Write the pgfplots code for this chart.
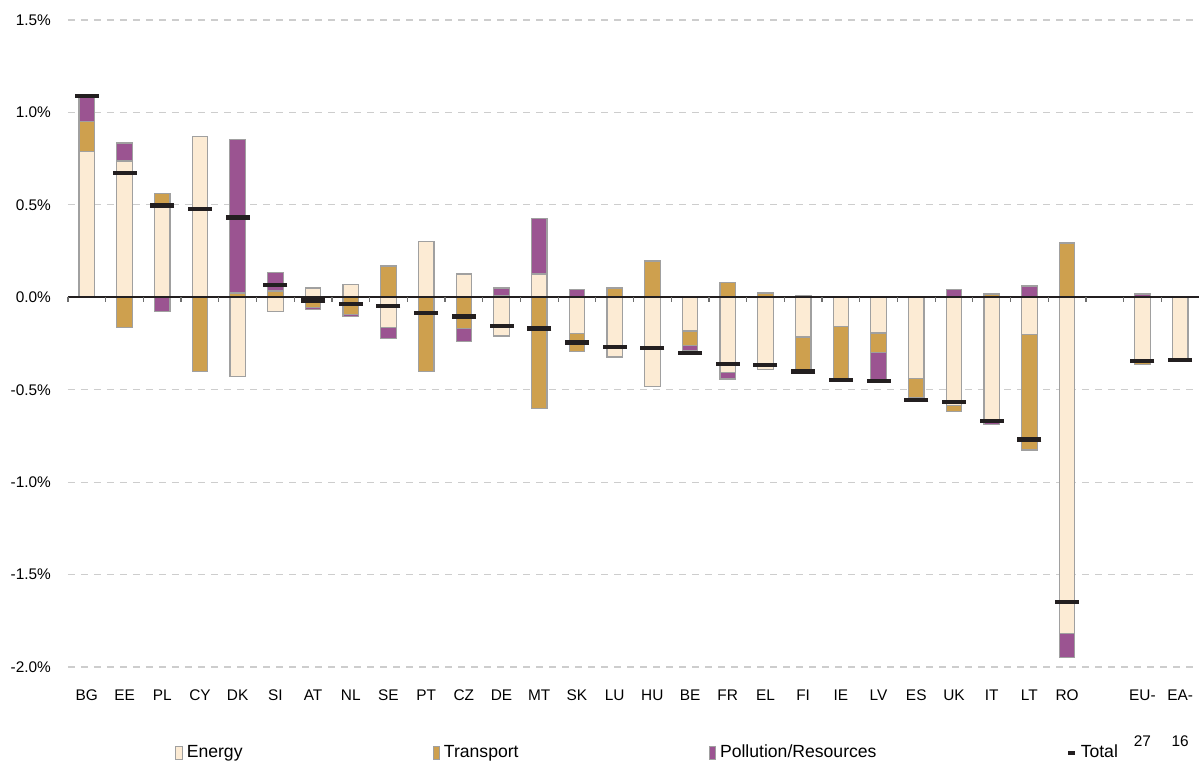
\documentclass[border=0pt]{standalone}
\usepackage{pgfplots}
\pgfplotsset{compat=1.18}
\usepackage{pgfplotstable}
\usepackage{fontspec}
\setmainfont{Liberation Sans}
\definecolor{energy}{RGB}{252,235,212}
\definecolor{transport}{RGB}{206,160,78}
\definecolor{pollution}{RGB}{155,84,145}
\definecolor{outline}{RGB}{160,160,160}
\definecolor{totalc}{RGB}{35,31,32}
\definecolor{gridc}{RGB}{205,205,205}
\definecolor{tickc}{RGB}{110,110,110}

\pgfplotstableread{
x  Ep    Tp    Pp    En     Tn     Pn     Tot
0  0.790 0.160 0.130 0      0      0      1.090
1  0.737 0     0.097 0      -0.162 0      0.672
2  0.505 0.055 0     0      0      -0.075 0.496
3  0.870 0     0     0      -0.400 0      0.477
4  0     0.023 0.829 -0.427 0      0      0.432
5  0     0.034 0.100 -0.076 0      0      0.065
6  0.050 0     0     0      -0.055 -0.012 -0.018
7  0.069 0     0     0      -0.093 -0.010 -0.036
8  0     0.169 0     -0.165 0      -0.057 -0.047
9  0.303 0     0     0      -0.400 0      -0.085
10 0.126 0     0     0      -0.170 -0.070 -0.105
11 0     0.010 0.040 -0.210 0      0      -0.157
12 0.126 0     0.302 0      -0.600 0      -0.170
13 0     0     0.043 -0.196 -0.096 0      -0.245
14 0     0.050 0     -0.323 0      0      -0.270
15 0     0.195 0.005 -0.483 0      0      -0.274
16 0     0     0     -0.182 -0.079 -0.028 -0.300
17 0     0.080 0     -0.405 0      -0.037 -0.360
18 0     0.023 0     -0.390 0      0      -0.365
19 0     0     0.010 -0.215 -0.175 0      -0.402
20 0     0     0     -0.160 -0.284 0      -0.448
21 0     0     0     -0.193 -0.107 -0.148 -0.453
22 0     0     0     -0.440 -0.105 0      -0.555
23 0     0     0.043 -0.587 -0.029 0      -0.567
24 0     0.018 0     -0.665 0      -0.023 -0.668
25 0     0     0.061 -0.203 -0.623 0      -0.770
26 0     0.294 0     -1.818 0      -0.132 -1.649
28 0     0     0.018 -0.348 -0.017 0      -0.346
29 0     0     0     -0.340 0      0      -0.340
}\data

\pgfplotstableread{
x y
-0.5 0
29.5 0
}\zeroline

\pgfplotsset{
  base/.style={scale only axis, width=565.5pt, height=323.5pt,
    xmin=-0.5, xmax=29.5, ymin=-2.0, ymax=1.5, at={(0,0)}, anchor=south west},
  barsty/.style={ybar stacked, bar width=7.75pt},
  eimg/.style={legend image code/.code={\draw[fill=energy,draw=outline,line width=0.5pt] (0pt,-3.2pt) rectangle (3.2pt,3.2pt);}},
  timg/.style={legend image code/.code={\draw[fill=transport,draw=outline,line width=0.5pt] (0pt,-3.2pt) rectangle (3.2pt,3.2pt);}},
  pimg/.style={legend image code/.code={\draw[fill=pollution,draw=outline,line width=0.5pt] (0pt,-3.2pt) rectangle (3.2pt,3.2pt);}},
  totimg/.style={legend image code/.code={\draw[totalc,line width=1.6pt] (0pt,0pt) -- (3.5pt,0pt);}},
}

\begin{document}
\begin{tikzpicture}[font=\fontsize{7.7}{9}\selectfont]
\begin{axis}[base, barsty,
  axis x line*=bottom, axis y line*=left,
  x axis line style={draw=none}, y axis line style={draw=none},
  major tick length=0pt,
  ytick={-2,-1.5,-1,-0.5,0,0.5,1,1.5},
  ymajorgrids, grid style={gridc, dash pattern=on 3.5pt off 3pt, line width=0.6pt},
  /pgf/number format/assume math mode=true,
  yticklabel={\pgfmathprintnumber[fixed,fixed zerofill,precision=1]{\tick}\%},
  yticklabel style={xshift=-5pt},
  xtick={0,1,2,3,4,5,6,7,8,9,10,11,12,13,14,15,16,17,18,19,20,21,22,23,24,25,26,28,29},
  xticklabels={BG,EE,PL,CY,DK,SI,AT,NL,SE,PT,CZ,DE,MT,SK,LU,HU,BE,FR,EL,FI,IE,LV,ES,UK,IT,LT,RO,{EU-\\[14pt]27},{EA-\\[14pt]16}},
  xticklabel style={align=center, yshift=-8pt},
  legend style={at={(0.0946,-0.133)}, anchor=west, draw=none, fill=none, inner sep=0pt,
    font=\fontsize{8.8}{10}\selectfont,
    /tikz/every even column/.append style={column sep=93pt}},
  legend columns=4, legend cell align=left,
]
\addplot[fill=energy, draw=outline, line width=0.6pt, eimg] table[x=x,y=Ep]{\data};
\addlegendentry{Energy}
\addplot[fill=transport, draw=outline, line width=0.6pt, timg] table[x=x,y=Tp]{\data};
\addlegendentry{Transport}
\addplot[fill=pollution, draw=outline, line width=0.6pt, pimg] table[x=x,y=Pp]{\data};
\addlegendentry{Pollution/Resources}
\addlegendimage{totimg}
\addlegendentry{Total}
\end{axis}
\begin{axis}[base, barsty, hide axis]
\addplot[fill=energy, draw=outline, line width=0.6pt] table[x=x,y=En]{\data};
\addplot[fill=transport, draw=outline, line width=0.6pt] table[x=x,y=Tn]{\data};
\addplot[fill=pollution, draw=outline, line width=0.6pt] table[x=x,y=Pn]{\data};
\end{axis}
\begin{axis}[base, hide axis, clip=false]
\addplot[draw=totalc, line width=0.8pt, mark=none, solid, sharp plot] table[x=x,y=y]{\zeroline};
\addplot[draw=tickc, line width=0.6pt, mark=none, ycomb, solid] coordinates {
(-0.5,-0.025) (0.5,-0.025) (1.5,-0.025) (2.5,-0.025) (3.5,-0.025) (4.5,-0.025) (5.5,-0.025) (6.5,-0.025) (7.5,-0.025) (8.5,-0.025) (9.5,-0.025) (10.5,-0.025) (11.5,-0.025) (12.5,-0.025) (13.5,-0.025) (14.5,-0.025) (15.5,-0.025) (16.5,-0.025) (17.5,-0.025) (18.5,-0.025) (19.5,-0.025) (20.5,-0.025) (21.5,-0.025) (22.5,-0.025) (23.5,-0.025) (24.5,-0.025) (25.5,-0.025) (26.5,-0.025) (27.5,-0.025) (28.5,-0.025)};
\addplot[only marks, mark=-, mark size=6pt, mark options={line width=2.2pt, draw=totalc}] table[x=x,y=Tot]{\data};
\end{axis}
\pgfresetboundingbox
\path (-34pt,-48pt) rectangle (565.5pt,333.5pt);
\end{tikzpicture}
\end{document}
